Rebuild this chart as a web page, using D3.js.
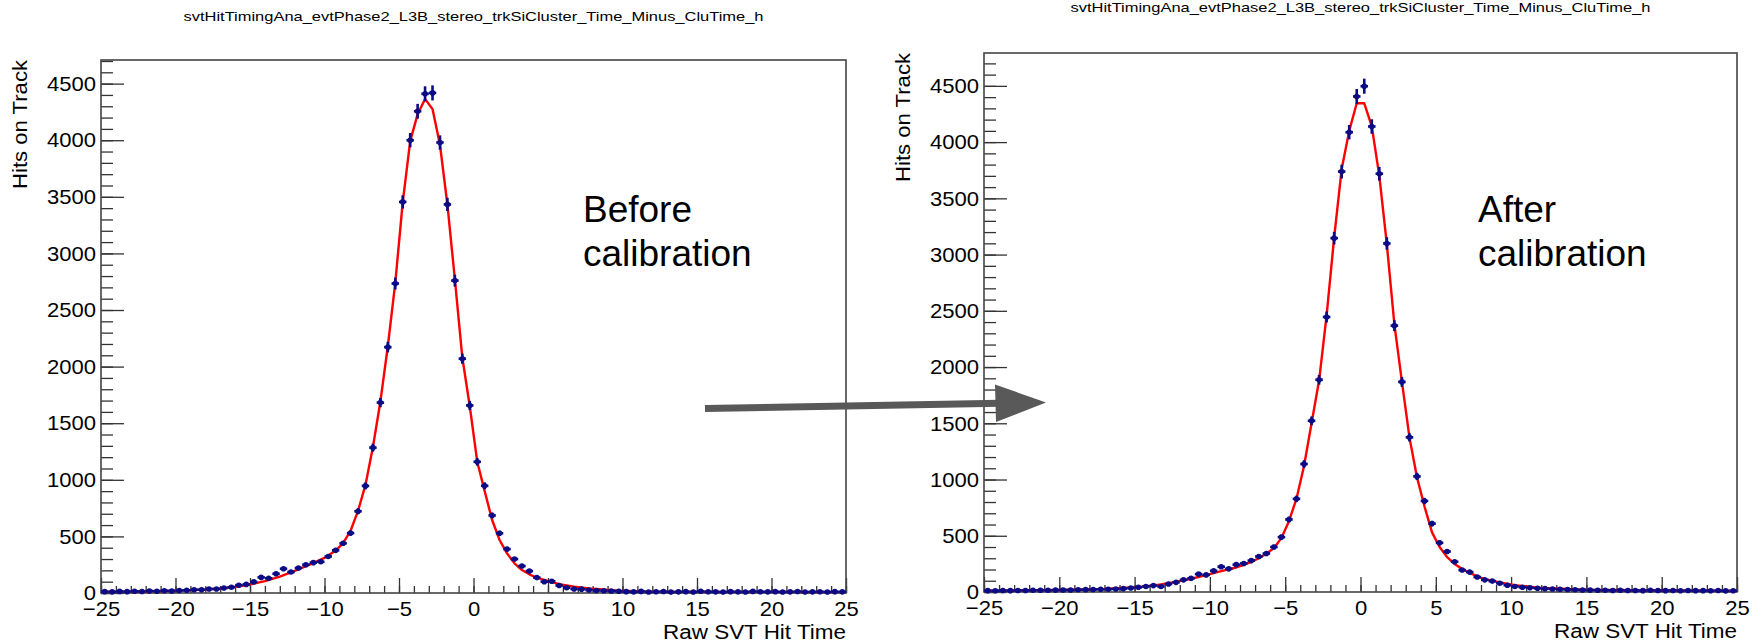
<!DOCTYPE html>
<html>
<head>
<meta charset="utf-8">
<script src="https://cdn.jsdelivr.net/npm/d3@7"></script>
<style>
body { margin: 0; background: #fff; }
text { font-family: "Liberation Sans", Arial, sans-serif; fill: #000; }
</style>
</head>
<body>
<div class="chart"></div>
<script>
const width = 1761
const height = 644

const histTitle = 'svtHitTimingAna_evtPhase2_L3B_stereo_trkSiCluster_Time_Minus_CluTime_h'
const xTitle = 'Raw SVT Hit Time'
const yTitle = 'Hits on Track'
const xTicks = [-25, -20, -15, -10, -5, 0, 5, 10, 15, 20, 25]
const yTicks = [0, 500, 1000, 1500, 2000, 2500, 3000, 3500, 4000, 4500]

// 100 bins of 0.5 from -25 to 25
const binLo = -25, binHi = 25, binW = 0.5

// before calibration, counts per bin
const beforeCounts = [
  12, 10, 14, 12, 15, 13, 18, 16, 20, 18,
  22, 24, 29, 29, 36, 36, 44, 51, 69, 76,
  98, 138, 130, 170, 214, 185, 221, 250, 268, 276,
  323, 377, 439, 529, 722, 946, 1284, 1682, 2172, 2734,
  3455, 4000, 4256, 4410, 4418, 3980, 3433, 2760, 2070, 1657,
  1159, 947, 685, 528, 388, 300, 238, 194, 136, 100,
  104, 66, 47, 36, 34, 26, 22, 20, 18, 16,
  12, 10, 14, 9, 11, 13, 8, 10, 12, 9,
  15, 11, 10, 8, 12, 10, 9, 14, 11, 10,
  12, 9, 10, 13, 8, 10, 11, 9, 12, 10
]
// after calibration, counts per bin
const afterCounts = [
  12, 11, 13, 12, 14, 13, 15, 16, 15, 17,
  18, 18, 20, 21, 22, 24, 25, 27, 30, 35,
  42, 49, 57, 49, 71, 86, 108, 122, 159, 152,
  188, 225, 206, 243, 254, 279, 316, 342, 400, 488,
  645, 828, 1138, 1522, 1887, 2445, 3146, 3738, 4088, 4406,
  4497, 4139, 3719, 3099, 2368, 1868, 1375, 1028, 809, 608,
  437, 360, 269, 195, 177, 133, 108, 97, 78, 60,
  49, 42, 38, 33, 30, 27, 24, 22, 20, 18,
  17, 16, 15, 14, 16, 13, 14, 12, 15, 13,
  12, 14, 11, 13, 12, 12, 11, 13, 10, 11
]

// fit curves
const beforeFitX = [-25, -22, -20, -18, -17, -16, -15, -14, -13, -12, -11, -10, -9.25, -8.75, -8.25, -7.75, -7.25, -6.75, -6.25, -5.75, -5.25, -4.75, -4.25, -3.75, -3.25, -2.75, -2.25, -1.75, -1.25, -0.75, -0.25, 0.25, 0.75, 1.25, 1.75, 2.25, 2.75, 3.25, 3.75, 4.25, 4.75, 5.75, 6.75, 7.75, 9.75, 12, 25]
const beforeFitY = [10, 14, 20, 30, 40, 55, 75, 105, 145, 195, 250, 310, 375, 440, 550, 725, 955, 1290, 1690, 2180, 2740, 3450, 3990, 4230, 4365, 4275, 3960, 3430, 2770, 2080, 1650, 1160, 900, 645, 468, 350, 262, 203, 165, 135, 115, 79, 56, 41, 20, 12, 8]
const afterFitX = [-25, -20, -17, -15.25, -14.25, -13.25, -12.25, -11.25, -10.25, -9.25, -8.25, -7.75, -7.25, -6.75, -6.25, -5.75, -5.25, -4.75, -4.25, -3.75, -3.25, -2.75, -2.25, -1.75, -1.25, -0.75, -0.25, 0.25, 0.75, 1.25, 1.75, 2.25, 2.75, 3.25, 3.75, 4.25, 4.75, 5.25, 5.75, 6.25, 6.75, 7.25, 7.75, 8.25, 9.25, 10.25, 12, 15, 20, 25]
const afterFitY = [12, 18, 28, 40, 50, 68, 90, 118, 150, 185, 218, 242, 268, 300, 340, 390, 480, 630, 830, 1120, 1500, 1880, 2460, 3150, 3760, 4100, 4345, 4345, 4139, 3700, 3090, 2380, 1870, 1375, 1020, 760, 530, 400, 310, 250, 205, 170, 140, 115, 85, 60, 35, 20, 13, 10]

const panels = [
  {counts: beforeCounts, fitX: beforeFitX, fitY: beforeFitY, label: ['Before', 'calibration'],
   left: 101, right: 846, top: 60, bottom: 593, titleY: 21, labelX: 583},
  {counts: afterCounts, fitX: afterFitX, fitY: afterFitY, label: ['After', 'calibration'],
   left: 984, right: 1737, top: 53, bottom: 592, titleY: 11.5, labelX: 1478}
]

const svg = d3.select('.chart').append('svg')
  .attr('width', width)
  .attr('height', height)
  .attr('viewBox', [0, 0, width, height])

const dataColor = '#0b0b86'
const stretch = sel => sel.each(function () {
  const l = this.getComputedTextLength()
  d3.select(this).attr('textLength', l * 1.05).attr('lengthAdjust', 'spacingAndGlyphs')
})

panels.forEach((p, pi) => {
  const centers = d3.range(binLo + binW / 2, binHi, binW)
  const bins = p.counts.map((v, i) => ({c: centers[i], v: v}))
  const ymax = 1.05 * d3.max(bins, d => d.v + Math.sqrt(d.v))

  const x = d3.scaleLinear().domain([binLo, binHi]).range([p.left, p.right])
  const y = d3.scaleLinear().domain([0, ymax]).range([p.bottom, p.top])

  const g = svg.append('g')

  // title
  g.append('text')
    .attr('x', (p.left + p.right) / 2)
    .attr('y', p.titleY)
    .attr('text-anchor', 'middle')
    .style('font-size', '13.5px')
    .attr('textLength', 580)
    .attr('lengthAdjust', 'spacingAndGlyphs')
    .text(histTitle)

  const clipId = 'clip' + pi
  g.append('clipPath').attr('id', clipId)
    .append('rect')
    .attr('x', p.left).attr('y', p.top)
    .attr('width', p.right - p.left).attr('height', p.bottom - p.top + 2)

  // axes (ticks point inward)
  const xMinor = g.append('g')
    .attr('transform', `translate(0,${p.bottom})`)
    .call(d3.axisBottom(x).tickValues(d3.range(binLo, binHi + 1, 1)).tickSize(-7).tickSizeOuter(0).tickFormat(''))
  const xMajor = g.append('g')
    .attr('transform', `translate(0,${p.bottom})`)
    .call(d3.axisBottom(x).tickValues(xTicks).tickSize(-15).tickSizeOuter(0).tickPadding(8))
  const yMinor = g.append('g')
    .attr('transform', `translate(${p.left},0)`)
    .call(d3.axisLeft(y).tickValues(d3.range(0, ymax, 100)).tickSize(-12).tickSizeOuter(0).tickFormat(''))
  const yMajor = g.append('g')
    .attr('transform', `translate(${p.left},0)`)
    .call(d3.axisLeft(y).tickValues(yTicks).tickSize(-23).tickSizeOuter(0).tickPadding(5).tickFormat(d3.format('d')))

  ;[xMinor, xMajor, yMinor, yMajor].forEach(a => {
    a.select('.domain').remove()
    a.selectAll('line').attr('stroke', '#333').attr('stroke-width', 1.3)
    a.selectAll('text')
      .attr('font-family', null)
      .style('font-size', '21px')
      .attr('fill', '#000')
  })
  xMajor.selectAll('text').call(stretch)
  yMajor.selectAll('text').call(stretch)

  // frame
  g.append('rect')
    .attr('x', p.left).attr('y', p.top)
    .attr('width', p.right - p.left).attr('height', p.bottom - p.top)
    .attr('fill', 'none')
    .attr('stroke', '#444')
    .attr('stroke-width', 1.6)

  // fit curve
  const fit = p.fitX.map((fx, i) => [fx, p.fitY[i]])
  g.append('path')
    .datum(fit)
    .attr('clip-path', `url(#${clipId})`)
    .attr('fill', 'none')
    .attr('stroke', '#f00')
    .attr('stroke-width', 2.4)
    .attr('stroke-linejoin', 'round')
    .attr('d', d3.line().x(d => x(d[0])).y(d => y(d[1])))

  // data points with errors
  const pts = g.append('g').attr('clip-path', `url(#${clipId})`)
    .selectAll('g')
    .data(bins)
    .join('g')
  pts.append('line')
    .attr('x1', d => x(d.c - binW / 2)).attr('x2', d => x(d.c + binW / 2))
    .attr('y1', d => y(d.v)).attr('y2', d => y(d.v))
    .attr('stroke', dataColor).attr('stroke-width', 2.6)
  pts.append('line')
    .attr('x1', d => x(d.c)).attr('x2', d => x(d.c))
    .attr('y1', d => y(d.v - Math.sqrt(d.v))).attr('y2', d => y(d.v + Math.sqrt(d.v)))
    .attr('stroke', dataColor).attr('stroke-width', 2.6)
  pts.append('circle')
    .attr('cx', d => x(d.c)).attr('cy', d => y(d.v))
    .attr('r', 2.8)
    .attr('fill', dataColor)

  // axis titles
  g.append('text')
    .attr('x', p.right)
    .attr('y', p.bottom + 46)
    .attr('text-anchor', 'end')
    .style('font-size', '20px')
    .attr('textLength', 183)
    .attr('lengthAdjust', 'spacingAndGlyphs')
    .text(xTitle)
  g.append('text')
    .attr('transform', `translate(${p.left - 74},${p.top}) rotate(-90)`)
    .attr('text-anchor', 'end')
    .style('font-size', '21px')
    .attr('textLength', 129)
    .attr('lengthAdjust', 'spacingAndGlyphs')
    .text(yTitle)

  // annotation
  g.append('text')
    .attr('x', p.labelX)
    .attr('y', 222)
    .style('font-size', '37px')
    .selectAll('tspan')
    .data(p.label)
    .join('tspan')
    .attr('x', p.labelX)
    .attr('dy', (d, i) => i === 0 ? 0 : 44)
    .text(d => d)
})

// arrow between the panels
const arrow = svg.append('g').attr('fill', '#595959').attr('stroke', '#595959')
arrow.append('line')
  .attr('x1', 705).attr('y1', 408.5)
  .attr('x2', 1000).attr('y2', 403.3)
  .attr('stroke-width', 7)
arrow.append('path')
  .attr('stroke', 'none')
  .attr('d', 'M995,384.5 L1046,402.5 L996,422 Z')
</script>
</body>
</html>
